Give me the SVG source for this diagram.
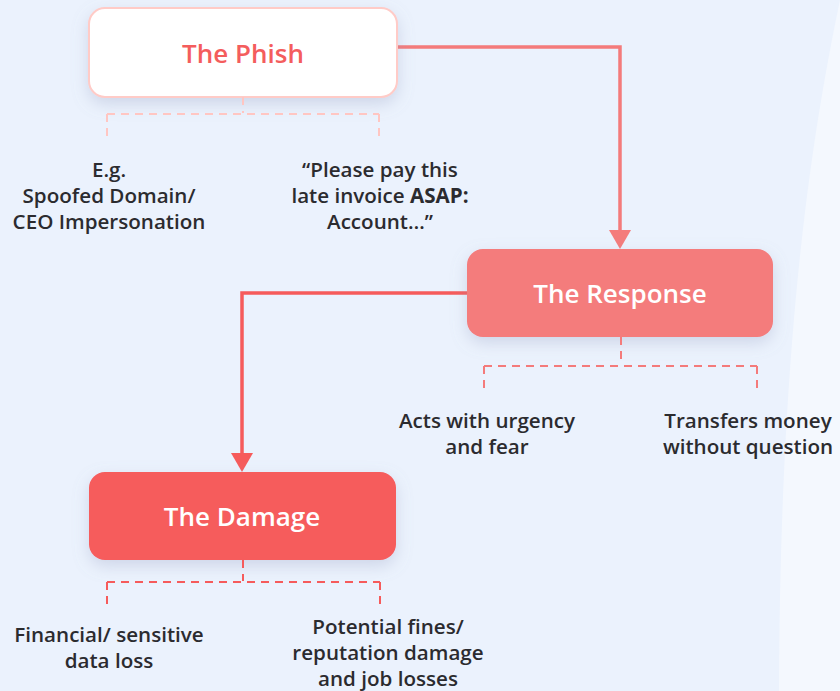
<svg xmlns="http://www.w3.org/2000/svg" width="840" height="691" viewBox="0 0 840 691">
<defs>
<style>
.t{font-family:"Open Sans","Noto Sans","Liberation Sans",sans-serif;font-size:20.6px;font-weight:600;fill:#2b2b2f;text-anchor:middle}
.title{font-family:"Open Sans","Noto Sans","Liberation Sans",sans-serif;font-size:26px;font-weight:600;text-anchor:middle}
.b{font-weight:700}
.dash{fill:none;stroke-width:2;stroke-dasharray:8 6}
.conn{fill:none;stroke-width:3.5}
</style>
<filter id="sh" x="-20%" y="-30%" width="140%" height="170%">
<feDropShadow dx="0" dy="6" stdDeviation="8" flood-color="#8a94b8" flood-opacity="0.3"/>
</filter>
</defs>
<rect width="840" height="691" fill="#ebf2fd"/>
<path d="M840,0 C815,120 780,320 779,691 L840,691 Z" fill="#f4f8fe"/>
<g id="connectors">
<path class="conn" d="M397,47 H620 V233" stroke="#f47b7b"/>
<path d="M609,230 L631,230 L620,249 Z" fill="#f47b7b"/>
<path class="conn" d="M467,293 H242 V456" stroke="#f65b5b"/>
<path d="M231,453 L253,453 L242,472 Z" fill="#f65b5b"/>
</g>
<g id="phish">
<rect x="89" y="8" width="308" height="89" rx="16" fill="#ffffff" stroke="#ffcbc7" stroke-width="2" filter="url(#sh)"/>
<text class="title" x="243" y="63" fill="#f45d5d">The Phish</text>
<path class="dash" d="M243,97 V113 M107,114 H379 M107,114 V140 M379,114 V140" stroke="#ffc6c2"/>
<text class="t" x="109" y="177">E.g.</text>
<text class="t" x="109" y="203">Spoofed Domain/</text>
<text class="t" x="109" y="229">CEO Impersonation</text>
<text class="t" x="380" y="177">“Please pay this</text>
<text class="t" x="380" y="203">late invoice <tspan class="b">ASAP:</tspan></text>
<text class="t" x="380" y="229">Account…”</text>
</g>
<g id="response">
<rect x="467" y="249" width="306" height="88" rx="16" fill="#f47b7b" filter="url(#sh)"/>
<text class="title" x="620" y="303" fill="#ffffff">The Response</text>
<path class="dash" d="M621,337 V365 M484,366 H757 M484,366 V390 M757,366 V390" stroke="#f47b7b"/>
<text class="t" x="487" y="428">Acts with urgency</text>
<text class="t" x="487" y="454">and fear</text>
<text class="t" x="748" y="428">Transfers money</text>
<text class="t" x="748" y="454">without question</text>
</g>
<g id="damage">
<rect x="89" y="472" width="307" height="88" rx="16" fill="#f65b5b" filter="url(#sh)"/>
<text class="title" x="242" y="526" fill="#ffffff">The Damage</text>
<path class="dash" d="M243,560 V581 M107,582 H380 M107,582 V604 M380,582 V604" stroke="#f65b5b"/>
<text class="t" x="109" y="642">Financial/ sensitive</text>
<text class="t" x="109" y="668">data loss</text>
<text class="t" x="388" y="634">Potential fines/</text>
<text class="t" x="388" y="660">reputation damage</text>
<text class="t" x="388" y="686">and job losses</text>
</g>
</svg>
